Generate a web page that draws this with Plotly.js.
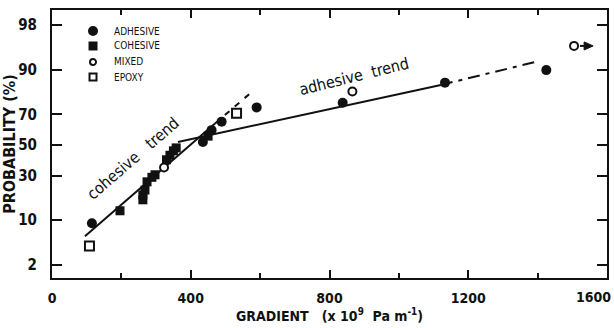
<!DOCTYPE html>
<html>
<head>
<meta charset="utf-8">
<script src="https://cdn.plot.ly/plotly-3.0.1.min.js"></script>
<style>html,body{margin:0;padding:0;background:#fff;}#chart{width:614px;height:328px;}</style>
</head>
<body>
<div id="chart"></div>
<script>
// ---- data (gradient in x10^9 Pa m^-1, cumulative probability in %) ----
const adhesiveX = [115, 435, 460, 489, 590, 838, 1133, 1425];
const adhesiveP = [9, 52, 60, 65.5, 74, 76.5, 85.7, 90];
const cohesiveX = [196, 262, 262, 268, 274, 288, 297, 330, 340, 350, 358, 450];
const cohesiveP = [13, 17.4, 19.6, 22, 26.4, 29, 30.5, 40, 43, 46, 48, 56];
const mixedX = [323, 866, 1505];
const mixedP = [35, 82, 95.5];
const epoxyX = [108, 532];
const epoxyP = [4.2, 70.6];

const cohTrendSolidX = [95, 470];
const cohTrendSolidP = [5.9, 64.3];
const cohTrendDashX = [470, 576];
const cohTrendDashP = [64.3, 81.8];
const adhTrendSolidX = [363, 1121];
const adhTrendSolidP = [52, 84.8];
const adhTrendDashX = [1121, 1392];
const adhTrendDashP = [84.8, 92.2];

const probTicks = [2, 10, 30, 50, 70, 90, 98];
const probTickText = ['2', '10', '30', '50', '70', '90', '98'];
const xTicks = [0, 400, 800, 1200, 1600];
const seriesNames = ['ADHESIVE', 'COHESIVE', 'MIXED', 'EPOXY'];

// inverse normal CDF (probability paper scale)
function normInv(p){
  const a=[-3.969683028665376e+01,2.209460984245205e+02,-2.759285104469687e+02,1.383577518672690e+02,-3.066479806614716e+01,2.506628277459239e+00];
  const b=[-5.447609879822406e+01,1.615858368580409e+02,-1.556989798598866e+02,6.680131188771972e+01,-1.328068155288572e+01];
  const c=[-7.784894002430293e-03,-3.223964580411365e-01,-2.400758277161838e+00,-2.549732539343734e+00,4.374664141464968e+00,2.938163982698783e+00];
  const d=[7.784695709041462e-03,3.224671290700398e-01,2.445134137142996e+00,3.754408661907416e+00];
  const pl=0.02425, ph=1-pl; let q,r;
  if(p<pl){q=Math.sqrt(-2*Math.log(p));return (((((c[0]*q+c[1])*q+c[2])*q+c[3])*q+c[4])*q+c[5])/((((d[0]*q+d[1])*q+d[2])*q+d[3])*q+1);}
  if(p<=ph){q=p-0.5;r=q*q;return (((((a[0]*r+a[1])*r+a[2])*r+a[3])*r+a[4])*r+a[5])*q/(((((b[0]*r+b[1])*r+b[2])*r+b[3])*r+b[4])*r+1);}
  q=Math.sqrt(-2*Math.log(1-p));return -(((((c[0]*q+c[1])*q+c[2])*q+c[3])*q+c[4])*q+c[5])/((((d[0]*q+d[1])*q+d[2])*q+d[3])*q+1);
}
const z = arr => arr.map(p => normInv(p/100));

const FONT = '"DejaVu Sans Condensed", "Liberation Sans Narrow", "DejaVu Sans", sans-serif';
const BLACK = '#111';

const markerStyles = [
  {symbol:'circle', size:10, color:BLACK},
  {symbol:'square', size:9, color:BLACK},
  {symbol:'circle', size:8, color:'#fff', line:{color:BLACK, width:2}},
  {symbol:'square', size:9, color:'#fff', line:{color:BLACK, width:2}}
];
const seriesX = [adhesiveX, cohesiveX, mixedX, epoxyX];
const seriesP = [adhesiveP, cohesiveP, mixedP, epoxyP];

const traces = [
  {x: cohTrendSolidX, y: z(cohTrendSolidP), mode:'lines', line:{color:BLACK, width:2}, showlegend:false, hoverinfo:'skip'},
  {x: cohTrendDashX, y: z(cohTrendDashP), mode:'lines', line:{color:BLACK, width:2, dash:'6px,7px'}, showlegend:false, hoverinfo:'skip'},
  {x: adhTrendSolidX, y: z(adhTrendSolidP), mode:'lines', line:{color:BLACK, width:2}, showlegend:false, hoverinfo:'skip'},
  {x: adhTrendDashX, y: z(adhTrendDashP), mode:'lines', line:{color:BLACK, width:2, dash:'12px,6px,4px,6px'}, showlegend:false, hoverinfo:'skip'}
];
seriesNames.forEach((n, i) => traces.push({name:n, x:seriesX[i], y:z(seriesP[i]), mode:'markers', marker:markerStyles[i], showlegend:false}));

// manual legend (symbols as shapes, labels as annotations)
const legX = 0.0739, legTextX = 0.108;
const legY = [0.9216, 0.8657, 0.806, 0.75];
const shapes = [];
const annotations = [];
seriesNames.forEach((n, i) => {
  const m = markerStyles[i];
  const h = (m.size) / 2;
  shapes.push({
    type: m.symbol === 'circle' ? 'circle' : 'rect',
    xref:'paper', yref:'paper', xsizemode:'pixel', ysizemode:'pixel',
    xanchor: legX, yanchor: legY[i],
    x0: -h + (m.line ? 1 : 0), x1: h - (m.line ? 1 : 0),
    y0: -h + (m.line ? 1 : 0), y1: h - (m.line ? 1 : 0),
    fillcolor: m.color, line: {color: BLACK, width: m.line ? 2 : 0}
  });
  annotations.push({xref:'paper', yref:'paper', x:legTextX, y:legY[i], xanchor:'left', yanchor:'middle',
    text:n, showarrow:false, font:{family:FONT, size:10, color:BLACK}});
});

// arrow from the highest MIXED point (drawn as a line shape with arrow via annotation-free path)
const arrowZ = normInv(mixedP[2]/100);
shapes.push({type:'line', xref:'x', yref:'y', x0:1522, x1:1548, y0:arrowZ, y1:arrowZ, line:{color:BLACK, width:2}});
shapes.push({type:'path', xref:'x', yref:'y', xsizemode:'pixel', ysizemode:'pixel', xanchor:1560, yanchor:arrowZ,
  path:'M 0 0 L -9 -4 L -9 4 Z', fillcolor:BLACK, line:{color:BLACK, width:1}});

annotations.push(
  {x:233, y:normInv(0.41), xref:'x', yref:'y', text:'cohesive   trend', showarrow:false, textangle:-41,
   font:{family:FONT, size:16, color:BLACK}},
  {x:870, y:normInv(0.878), xref:'x', yref:'y', text:'adhesive  trend', showarrow:false, textangle:-14,
   font:{family:FONT, size:16, color:BLACK}},
  {x:1600, y:0, xref:'x', yref:'paper', yanchor:'top', xanchor:'right', xshift:6, yshift:-9,
   text:String(xTicks[4]), showarrow:false, font:{family:FONT, size:14, weight:'bold', color:BLACK}}
);

const layout = {
  width: 614, height: 328,
  margin: {l:52, r:7, t:10, b:50},
  paper_bgcolor:'#fff', plot_bgcolor:'#fff',
  font: {family: FONT, color: BLACK, size: 13},
  showlegend: false,
  xaxis: {
    range:[0, 1600], tickvals: xTicks.slice(0, 4), ticktext: xTicks.slice(0, 4).map(String),
    ticks:'inside', ticklen:8, tickwidth:2, tickcolor:BLACK,
    minor:{dtick:200, ticks:'inside', ticklen:5, tickwidth:2, tickcolor:BLACK},
    showline:true, linewidth:2, linecolor:BLACK, mirror:'ticks',
    showgrid:false, zeroline:false,
    ticklabelstandoff: 6,
    tickfont:{family:FONT, size:14, weight:'bold', color:BLACK},
    title:{text:'GRADIENT   (x 10<sup>9</sup>  Pa m<sup>-1</sup>)', font:{family:FONT, size:14, weight:'bold', color:BLACK}, standoff:2}
  },
  yaxis: {
    range:[-2.277, 2.31], tickvals: z(probTicks), ticktext: probTickText,
    ticks:'inside', ticklen:10, tickwidth:2, tickcolor:BLACK,
    showline:true, linewidth:2, linecolor:BLACK, mirror:'ticks',
    showgrid:false, zeroline:false,
    ticklabelstandoff: 10,
    tickfont:{family:FONT, size:15, weight:'bold', color:BLACK},
    title:{text:'PROBABILITY (%)', font:{family:FONT, size:16, weight:'bold', color:BLACK}, standoff:5}
  },
  shapes: shapes,
  annotations: annotations
};

Plotly.newPlot('chart', traces, layout, {displayModeBar:false, staticPlot:true});
</script>
</body>
</html>
